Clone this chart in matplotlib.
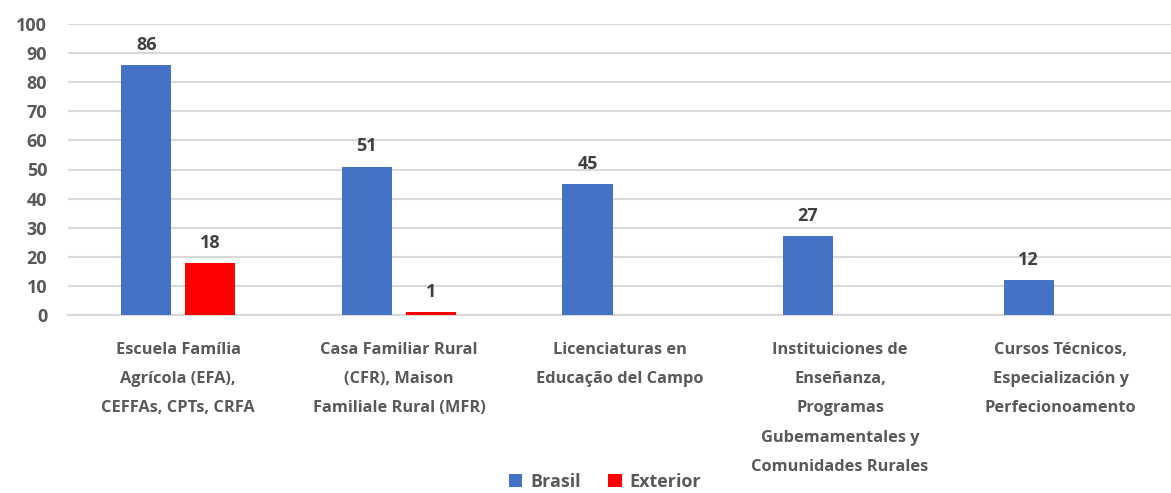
import matplotlib.pyplot as plt
import numpy as np

categories = [
    "Escuela Família\nAgrícola (EFA),\nCEFFAs, CPTs, CRFA",
    "Casa Familiar Rural\n(CFR), Maison\nFamiliale Rural (MFR)",
    "Licenciaturas en\nEducação del Campo",
    "Instituiciones de\nEnseñanza,\nProgramas\nGubemamentales y\nComunidades Rurales",
    "Cursos Técnicos,\nEspecialización y\nPerfecionoamento",
]
brasil = [86, 51, 45, 27, 12]
exterior = [18, 1, None, None, None]

plt.rcParams['font.family'] = ['Open Sans', 'DejaVu Sans']
plt.rcParams['font.weight'] = 'bold'
text_color = '#595959'
fs = 11.8

fig = plt.figure(figsize=(11.71, 4.93), dpi=100)
ax = fig.add_axes([68 / 1171, 1 - 315 / 493, 1 - 68 / 1171, 291 / 493])

x = np.arange(len(categories))
w = 0.227
off = 0.145

e_x = [xi + off for xi, v in zip(x, exterior) if v is not None]
e_vals = [v for v in exterior if v is not None]

bars_b = ax.bar(x - off, brasil, width=w, color='#4472C4', label='Brasil', zorder=3)
bars_e = ax.bar(e_x, e_vals, width=w, color='#FF0000', label='Exterior', zorder=3)

for bars in (bars_b, bars_e):
    ax.bar_label(bars, padding=8, fontsize=13, fontweight='bold', color='#404040')

ax.set_xlim(-0.5, len(categories) - 0.5)
ax.set_ylim(0, 100)
ax.set_yticks(range(0, 101, 10))
ax.yaxis.grid(True, color='#D9D9D9', linewidth=1.5, zorder=0)
ax.set_axisbelow(True)

ax.set_xticks(x)
ax.set_xticklabels(categories, fontsize=fs, fontweight='bold', color=text_color,
                   linespacing=2.1, multialignment='center')
ax.tick_params(axis='x', length=0, pad=19.5)
ax.tick_params(axis='y', length=0, pad=15, labelsize=13, labelcolor=text_color)
for lbl in ax.get_yticklabels():
    lbl.set_fontweight('bold')

for s in ['top', 'right', 'left']:
    ax.spines[s].set_visible(False)
ax.spines['bottom'].set_color('#D9D9D9')
ax.spines['bottom'].set_linewidth(1.5)

leg = fig.legend(loc='center', bbox_to_anchor=(605 / 1171, 1 - 482 / 493), ncol=2,
                 frameon=False, fontsize=13, handlelength=0.75, handleheight=0.75,
                 columnspacing=1.5, handletextpad=0.45, borderpad=0.1)
for t in leg.get_texts():
    t.set_color(text_color)
    t.set_fontweight('bold')

fig.savefig('out.png', dpi=100)
